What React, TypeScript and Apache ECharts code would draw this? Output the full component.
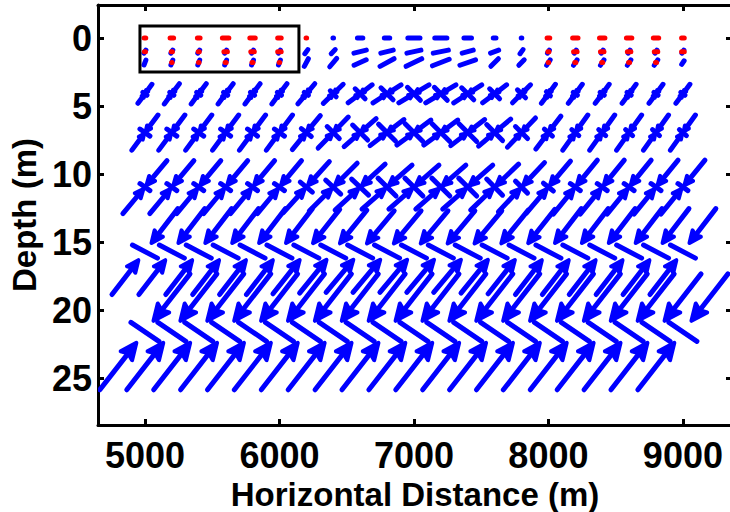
import React, { useEffect, useRef } from 'react';
import * as echarts from 'echarts';

// ---------- data ----------
const colX = [5000, 5200, 5400, 5600, 5800, 6000, 6200, 6400, 6600, 6800, 7000, 7200, 7400, 7600, 7800, 8000, 8200, 8400, 8600, 8800, 9000];
const distTicks = [5000, 6000, 7000, 8000, 9000];
const depthTicks = [0, 5, 10, 15, 20, 25];

// surface rows: half-axis (m horizontal, m depth) per column
const d0Depth = 0;
const d0BlueU = [0, 0, 0, 0, 0, 0, 0, 2, 20, 20, 45, 45, 28, 10, 2, 0, 0, 0, 0, 0, 0];
const d0BlueV = [0, 0, 0, 0, 0, 0, 0, 0, 0, 0, 0, 0, 0, 0, 0, 0, 0, 0, 0, 0, 0];
const d0RedU = [6, 13, 10, 24, 20, 13, 2, 0, 0, 0, 0, 0, 0, 0, 0, 10, 20, 20, 20, 20, 10];

const d1Depth = 1.0;
const d1BlueU = [7, 7, 7, 7, 7, 7, 11, 15, 46, 46, 52, 56, 41, 30, 11, 7, 7, 7, 7, 7, 7];
const d1BlueV = [-0.11, -0.11, -0.11, -0.11, -0.11, -0.11, -0.15, -0.15, -0.11, -0.11, -0.11, -0.11, -0.11, -0.11, -0.15, -0.11, -0.11, -0.11, -0.11, -0.11, -0.11];
const d1RedU = [4, 4, 4, 13, 13, 13, 0, 0, 0, 0, 0, 0, 0, 0, 0, 4, 13, 13, 13, 13, 10];

const d2Depth = 1.8;
const d2BlueU = [7, 7, 7, 7, 7, 7, 15, 26, 45, 52, 58, 62, 58, 28, 20, 13, 13, 13, 13, 13, 9];
const d2BlueV = [-0.18, -0.18, -0.18, -0.18, -0.18, -0.18, -0.28, -0.31, -0.2, -0.28, -0.28, -0.24, -0.2, -0.28, -0.2, -0.2, -0.2, -0.2, -0.2, -0.2, -0.13];
const d2RedU = [0, 2, 2, 4, 4, 2, 0, 0, 0, 0, 0, 0, 0, 0, 0, 2, 4, 4, 4, 4, 0];

// deeper rows: major half-axis (U m, V m) and minor half-axis (U m, V m)
const d4Depth = 4.1;
const d4MajU = [52, 56, 56, 56, 56, 56, 63, 74, 89, 104, 112, 112, 104, 89, 67, 52, 52, 52, 52, 52, 52];
const d4MajV = [-0.7, -0.74, -0.74, -0.74, -0.74, -0.74, -0.74, -0.7, -0.66, -0.66, -0.66, -0.66, -0.66, -0.66, -0.66, -0.7, -0.7, -0.7, -0.7, -0.7, -0.7];
const d4MinU = [15, 15, 15, 15, 15, 15, 15, 22, 37, 45, 48, 48, 45, 37, 30, 15, 15, 15, 15, 15, 15];
const d4MinV = [0.11, 0.11, 0.11, 0.11, 0.11, 0.11, 0.11, 0.22, 0.37, 0.44, 0.48, 0.48, 0.44, 0.37, 0.29, 0.15, 0.11, 0.11, 0.11, 0.11, 0.11];

const d7Depth = 6.95;
const d7MajU = [97, 97, 97, 97, 97, 97, 104, 112, 119, 126, 126, 126, 126, 119, 104, 93, 93, 93, 93, 93, 93];
const d7MajV = [-1.29, -1.29, -1.29, -1.29, -1.29, -1.29, -1.25, -1.14, -1.03, -0.96, -0.92, -0.92, -0.96, -0.99, -1.07, -1.21, -1.29, -1.29, -1.29, -1.29, -1.29];
const d7MinU = [37, 37, 37, 37, 37, 37, 37, 45, 56, 63, 67, 67, 67, 59, 45, 30, 26, 26, 26, 26, 26];
const d7MinV = [0.26, 0.26, 0.26, 0.26, 0.26, 0.26, 0.29, 0.44, 0.55, 0.62, 0.66, 0.66, 0.66, 0.59, 0.44, 0.26, 0.22, 0.22, 0.22, 0.22, 0.22];

const d11Depth = 10.96;
const d11MajU = [164, 164, 164, 164, 164, 164, 171, 178, 186, 186, 186, 186, 186, 178, 171, 164, 164, 164, 164, 164, 164];
const d11MajV = [-1.95, -1.95, -1.95, -1.95, -1.95, -1.95, -1.87, -1.76, -1.69, -1.62, -1.62, -1.62, -1.62, -1.69, -1.8, -1.91, -1.98, -1.98, -1.98, -1.98, -1.98];
const d11MinU = [37, 37, 37, 37, 37, 37, 45, 56, 63, 67, 67, 67, 67, 59, 45, 37, 37, 37, 37, 37, 37];
const d11MinV = [0.26, 0.26, 0.26, 0.26, 0.26, 0.26, 0.37, 0.51, 0.59, 0.66, 0.66, 0.66, 0.66, 0.59, 0.44, 0.29, 0.26, 0.26, 0.26, 0.26, 0.26];

const d16Depth = 15.7;
const d16MajU = [245, 245, 245, 245, 245, 245, 248, 250, 253, 253, 253, 253, 253, 250, 248, 245, 245, 245, 245, 245, 245];
const d16MajV = [-3.16, -3.16, -3.16, -3.16, -3.16, -3.16, -3.1, -3.05, -3.0, -3.0, -3.0, -3.0, -3.0, -3.05, -3.1, -3.16, -3.16, -3.16, -3.16, -3.16, -3.16];
const d16MinU = [93, 93, 93, 93, 93, 93, 93, 93, 93, 93, 93, 93, 93, 93, 93, 93, 93, 93, 93, 93, 93];
const d16MinV = [0.48, 0.48, 0.48, 0.48, 0.48, 0.48, 0.48, 0.48, 0.48, 0.48, 0.48, 0.48, 0.48, 0.48, 0.48, 0.48, 0.48, 0.48, 0.48, 0.48, 0.48];

const d22Depth = 21.6;
const d22MajU = [335, 335, 335, 335, 335, 335, 335, 335, 335, 335, 335, 335, 335, 335, 335, 335, 335, 335, 335, 335, 335];
const d22MajV = [-4.26, -4.26, -4.26, -4.26, -4.26, -4.26, -4.26, -4.26, -4.26, -4.26, -4.26, -4.26, -4.26, -4.26, -4.26, -4.26, -4.26, -4.26, -4.26, -4.26, -4.26];
const d22MinU = [104, 104, 104, 104, 104, 104, 104, 104, 104, 104, 104, 104, 104, 104, 104, 104, 104, 104, 104, 104, 104];
const d22MinV = [0.7, 0.7, 0.7, 0.7, 0.7, 0.7, 0.7, 0.7, 0.7, 0.7, 0.7, 0.7, 0.7, 0.7, 0.7, 0.7, 0.7, 0.7, 0.7, 0.7, 0.7];

// highlighted box (x0, depth0, x1, depth1)
const boxCorners = [4963, -0.88, 6145, 2.5];

// ---------- layout ----------
const X_MIN = 4651;
const X_MAX = 9365;
const Y_MIN = -2.43;
const Y_MAX = 28.45;
const LW = 5;
const HEAD = 0.3;
const ANG = (24 * Math.PI) / 180;
const FONT = 'Liberation Sans, Arial, Helvetica, sans-serif';

type Row = { depth: number; gap: number; majU: number[]; majV: number[]; minU: number[]; minV: number[] };

const surfaceRows = [
  { depth: d0Depth, u: d0BlueU, v: d0BlueV },
  { depth: d1Depth, u: d1BlueU, v: d1BlueV },
  { depth: d2Depth, u: d2BlueU, v: d2BlueV },
];
const redRows = [
  { depth: d0Depth, u: d0RedU },
  { depth: d1Depth, u: d1RedU },
  { depth: d2Depth, u: d2RedU },
];
const deepRows: Row[] = [
  { depth: d4Depth, gap: 0.06, majU: d4MajU, majV: d4MajV, minU: d4MinU, minV: d4MinV },
  { depth: d7Depth, gap: 0.06, majU: d7MajU, majV: d7MajV, minU: d7MinU, minV: d7MinV },
  { depth: d11Depth, gap: 0.07, majU: d11MajU, majV: d11MajV, minU: d11MinU, minV: d11MinV },
  { depth: d16Depth, gap: 0.2, majU: d16MajU, majV: d16MajV, minU: d16MinU, minV: d16MinV },
  { depth: d22Depth, gap: 0.19, majU: d22MajU, majV: d22MajV, minU: d22MinU, minV: d22MinV },
];

function buildBlue(): number[][] {
  const out: number[][] = [];
  surfaceRows.forEach((r) =>
    colX.forEach((x, i) => {
      if (r.u[i] === 0 && r.v[i] === 0) return;
      out.push([x, r.depth, r.u[i], r.v[i], 0, 0, 0, 0]);
    })
  );
  deepRows.forEach((r) =>
    colX.forEach((x, i) => {
      out.push([x, r.depth, r.majU[i], r.majV[i], r.minU[i], r.minV[i], 1, r.gap]);
    })
  );
  return out;
}

function buildRed(): number[][] {
  const out: number[][] = [];
  redRows.forEach((r) =>
    colX.forEach((x, i) => {
      if (r.u[i] === 0) return;
      out.push([x, r.depth, r.u[i], 0, 0, 0, 0, 0]);
    })
  );
  return out;
}

function makeRender(color: string) {
  return (params: any, api: any) => {
    const x = api.value(0) as number;
    const d = api.value(1) as number;
    const mu = api.value(2) as number;
    const mv = api.value(3) as number;
    const nu = api.value(4) as number;
    const nv = api.value(5) as number;
    const kind = api.value(6) as number;
    const gap = api.value(7) as number;
    const c = api.coord([x, d]);
    const style = { stroke: color, lineWidth: LW, lineCap: 'round', lineJoin: 'round', fill: 'none' };
    const headStyle = { stroke: color, lineWidth: LW * 0.8, lineJoin: 'round', fill: color };
    const children: any[] = [];
    if (nu !== 0 || nv !== 0) {
      const a = api.coord([x + nu, d + nv]);
      const b = api.coord([x - nu, d - nv]);
      children.push({ type: 'line', shape: { x1: b[0], y1: b[1], x2: a[0], y2: a[1] }, style });
    }
    if (kind === 1) {
      const ends = [api.coord([x + mu, d + mv]), api.coord([x - mu, d - mv])];
      for (const e of ends) {
        const tip = [c[0] + (e[0] - c[0]) * gap, c[1] + (e[1] - c[1]) * gap];
        const dx = tip[0] - e[0];
        const dy = tip[1] - e[1];
        const len = Math.hypot(dx, dy);
        if (len < 0.5) continue;
        const ux = dx / len;
        const uy = dy / len;
        const hl = len * HEAD;
        const ca = Math.cos(ANG);
        const sa = Math.sin(ANG);
        const b1 = [tip[0] - hl * (ux * ca - uy * sa), tip[1] - hl * (ux * sa + uy * ca)];
        const b2 = [tip[0] - hl * (ux * ca + uy * sa), tip[1] - hl * (-ux * sa + uy * ca)];
        const mid = [tip[0] - hl * 0.75 * ux, tip[1] - hl * 0.75 * uy];
        children.push({ type: 'line', shape: { x1: e[0], y1: e[1], x2: mid[0], y2: mid[1] }, style });
        children.push({ type: 'polygon', shape: { points: [b1, tip, b2, mid] }, style: headStyle });
      }
    } else {
      const a = api.coord([x + mu, d + mv]);
      const b = api.coord([x - mu, d - mv]);
      children.push({ type: 'line', shape: { x1: b[0], y1: b[1], x2: a[0] + 0.01, y2: a[1] }, style });
    }
    return { type: 'group', children };
  };
}

function renderBox(params: any, api: any) {
  const p0 = api.coord([api.value(0), api.value(1)]);
  const p1 = api.coord([api.value(2), api.value(3)]);
  return {
    type: 'rect',
    shape: { x: p0[0], y: p0[1], width: p1[0] - p0[0], height: p1[1] - p0[1] },
    style: { stroke: '#000', lineWidth: 3, fill: 'none' },
  };
}

const axisLineStyle = { color: '#000', width: 3 };
const tickStyle = { color: '#000', width: 3 };
const labelStyle = { fontSize: 36, fontWeight: 'bold' as const, color: '#000', fontFamily: FONT };
const nameStyle = { fontSize: 33, fontWeight: 'bold' as const, color: '#000', fontFamily: FONT, lineHeight: 34 };

export default function App() {
  const ref = useRef<HTMLDivElement>(null);
  useEffect(() => {
    if (!ref.current) return;
    const chart = echarts.init(ref.current, null, { renderer: 'svg' });
    chart.setOption({
      animation: false,
      backgroundColor: '#fff',
      grid: { left: 98, top: 5, right: -2, bottom: 87, containLabel: false, outerBoundsMode: 'none' },
      xAxis: [
        {
          type: 'value',
          position: 'bottom',
          min: X_MIN,
          max: X_MAX,
          axisLine: { show: true, onZero: false, lineStyle: axisLineStyle },
          axisTick: { show: true, inside: true, length: 6, lineStyle: tickStyle, customValues: distTicks },
          axisLabel: { ...labelStyle, margin: 12, customValues: distTicks, formatter: (v: number) => String(v) },
          splitLine: { show: false },
          name: 'Horizontal Distance (m)',
          nameLocation: 'middle',
          nameGap: 46,
          nameTextStyle: { ...nameStyle },
        },
        {
          type: 'value',
          position: 'top',
          min: X_MIN,
          max: X_MAX,
          axisLine: { show: true, onZero: false, lineStyle: axisLineStyle },
          axisTick: { show: true, inside: true, length: 6, lineStyle: tickStyle, customValues: distTicks },
          axisLabel: { show: false },
          splitLine: { show: false },
        },
      ],
      yAxis: [
        {
          type: 'value',
          position: 'left',
          inverse: true,
          min: Y_MIN,
          max: Y_MAX,
          axisLine: { show: true, onZero: false, lineStyle: axisLineStyle },
          axisTick: { show: true, inside: true, length: 6, lineStyle: tickStyle, customValues: depthTicks },
          axisLabel: { ...labelStyle, margin: 6, customValues: depthTicks, formatter: (v: number) => String(v) },
          splitLine: { show: false },
          name: 'Depth (m)',
          nameLocation: 'middle',
          nameGap: 46,
          nameTextStyle: { ...nameStyle },
        },
        {
          type: 'value',
          position: 'right',
          inverse: true,
          min: Y_MIN,
          max: Y_MAX,
          axisLine: { show: true, onZero: false, lineStyle: axisLineStyle },
          axisTick: { show: true, inside: true, length: 6, lineStyle: tickStyle, customValues: depthTicks },
          axisLabel: { show: false },
          splitLine: { show: false },
        },
      ],
      series: [
        {
          type: 'custom',
          name: 'blue',
          xAxisIndex: 0,
          yAxisIndex: 0,
          clip: true,
          z: 2,
          encode: { x: 0, y: 1 },
          data: buildBlue(),
          renderItem: makeRender('#0000ff'),
        },
        {
          type: 'custom',
          name: 'red',
          xAxisIndex: 0,
          yAxisIndex: 0,
          clip: true,
          z: 3,
          encode: { x: 0, y: 1 },
          data: buildRed(),
          renderItem: makeRender('#ff0000'),
        },
        {
          type: 'custom',
          name: 'box',
          xAxisIndex: 0,
          yAxisIndex: 0,
          z: 4,
          encode: { x: [0, 2], y: [1, 3] },
          data: [boxCorners],
          renderItem: renderBox,
        },
      ],
    });
    return () => chart.dispose();
  }, []);
  return <div ref={ref} style={{ position: 'fixed', left: 0, top: 0, width: 730, height: 512 }} />;
}
